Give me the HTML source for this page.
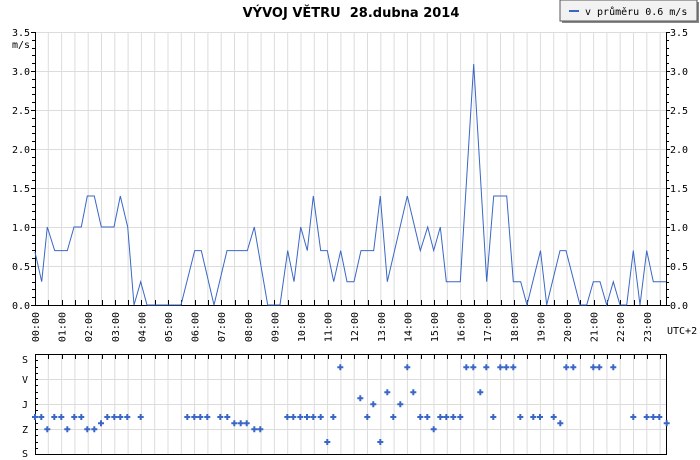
<!DOCTYPE html>
<html><head><meta charset="utf-8"><style>
body{margin:0;background:#fff;}
svg{display:block;font-family:"DejaVu Sans Mono","Liberation Mono",monospace;font-size:10px;}
</style></head><body>
<svg width="700" height="460" xmlns="http://www.w3.org/2000/svg">
<rect width="700" height="460" fill="#fff"/>
<text x="351" y="17" text-anchor="middle" font-family="DejaVu Sans,Liberation Sans,sans-serif" font-weight="bold" font-size="13" xml:space="preserve">VÝVOJ VĚTRU  28.dubna 2014</text>
<rect x="562" y="2" width="137" height="21" fill="#888"/>
<rect x="560" y="0" width="137" height="21" fill="#f2f2f2" stroke="#555"/>
<line x1="569" y1="11" x2="579" y2="11" stroke="#3a67c6" stroke-width="2"/>
<text x="585" y="15">v průměru 0.6 m/s</text>
<g stroke="#dcdcdc">
<path d="M35 32.5H666M35 71.5H666M35 110.5H666M35 149.5H666M35 188.5H666M35 227.5H666M35 266.5H666"/>
<path d="M35 379.5H667M35 404.5H667M35 429.5H667"/>
<path d="M48.3 32V305M61.6 32V305M74.9 32V305M88.2 32V305M101.5 32V305M114.8 32V305M128.1 32V305M141.4 32V305M154.7 32V305M168 32V305M181.3 32V305M194.6 32V305M207.9 32V305M221.2 32V305M234.5 32V305M247.8 32V305M261.1 32V305M274.4 32V305M287.7 32V305M301 32V305M314.3 32V305M327.6 32V305M340.9 32V305M354.2 32V305M367.5 32V305M380.8 32V305M394.1 32V305M407.4 32V305M420.7 32V305M434 32V305M447.3 32V305M460.6 32V305M473.9 32V305M487.2 32V305M500.5 32V305M513.8 32V305M527.1 32V305M540.4 32V305M553.7 32V305M567 32V305M580.3 32V305M593.6 32V305M606.9 32V305M620.2 32V305M633.5 32V305M646.8 32V305M660.1 32V305"/>
<path d="M48.3 354V454M61.6 354V454M74.9 354V454M88.2 354V454M101.5 354V454M114.8 354V454M128.1 354V454M141.4 354V454M154.7 354V454M168 354V454M181.3 354V454M194.6 354V454M207.9 354V454M221.2 354V454M234.5 354V454M247.8 354V454M261.1 354V454M274.4 354V454M287.7 354V454M301 354V454M314.3 354V454M327.6 354V454M340.9 354V454M354.2 354V454M367.5 354V454M380.8 354V454M394.1 354V454M407.4 354V454M420.7 354V454M434 354V454M447.3 354V454M460.6 354V454M473.9 354V454M487.2 354V454M500.5 354V454M513.8 354V454M527.1 354V454M540.4 354V454M553.7 354V454M567 354V454M580.3 354V454M593.6 354V454M606.9 354V454M620.2 354V454M633.5 354V454M646.8 354V454M660.1 354V454"/>
</g>
<g stroke="#000" fill="none">
<path d="M35.5 32V305.5H666.5V32"/>
<rect x="35.5" y="354.5" width="631" height="100"/>
</g>
<g stroke="#000" id="ticks"></g>
<polyline fill="none" stroke="#3a67c6" stroke-width="1" points="35,252 41.7,281.7 47.3,227 54.7,250.6 67.3,250.6 74,227 81.3,227 87.3,196 94.3,196 101.3,227 114,227 120.3,196 127.7,227 134,305 140.7,281.7 147,305 181,305 194.7,250.6 201.3,250.6 214,305 227,250.6 247.3,250.6 254.3,227 267.7,305 280,305 287.7,250.6 294,281.7 300.7,227 307.3,250.6 313.3,196 320.7,250.6 327.3,250.6 333.7,281.7 340.7,250.6 347,281.7 354,281.7 361,250.6 373.7,250.6 380.3,196 387.3,281.7 407.3,196 420.3,250.6 427.7,227 433.7,250.6 440.3,227 446.3,281.7 460.3,281.7 473.7,64 486.7,281.7 493.7,196 506.7,196 513.3,281.7 520.7,281.7 527,305 540.5,250.6 546.7,305 560,250.6 566,250.6 580,305 586.7,305 593.3,281.7 600,281.7 606.7,305 613.3,281.7 620,305 626.7,305 633.3,250.6 640,305 646.7,250.6 653.3,281.7 666,281.7"/>
<g id="dots" fill="#3a67c6"></g>
<g id="labels" fill="#000"></g>
<text x="30" y="36" text-anchor="end">3.5</text>
<text x="30" y="48" text-anchor="end">m/s</text>
<text x="670" y="36">3.5</text>
<text x="25" y="363" text-anchor="middle">S</text>
<text x="25" y="383" text-anchor="middle">V</text>
<text x="25" y="408" text-anchor="middle">J</text>
<text x="25" y="433" text-anchor="middle">Z</text>
<text x="25" y="457" text-anchor="middle">S</text>
<text x="667" y="334">UTC+2</text>
</svg>
<script>
var NS="http://www.w3.org/2000/svg";
function el(p,t,a,txt){var e=document.createElementNS(NS,t);for(var k in a)e.setAttribute(k,a[k]);if(txt!=null)e.textContent=txt;document.getElementById(p).appendChild(e);}
var d="";
for(var i=0;i<=35;i++){var y=305-i*7.8;y=Math.round(y)+0.5;var L=(i%5==0)?4:3;d+="M"+(35-L)+" "+y+"H35M666 "+y+"H"+(666+L);}
for(var k=0;k<=47;k++){var x=Math.round(35+k*13.3)+0.5;d+="M"+x+" 305V300M"+x+" 354V359";}
for(var j=0;j<=16;j++){var y=Math.round(354+j*6.25)+0.5;d+="M35 "+y+"H38";}
el("ticks","path",{d:d});
for(var i=0;i<7;i++){var v=(i*0.5).toFixed(1);var y=305-i*39+4;el("labels","text",{x:30,y:y,"text-anchor":"end"},v);el("labels","text",{x:670,y:y},v);}
for(var h=0;h<24;h++){var x=35+26.6*h+4;var s=(h<10?"0":"")+h+":00";el("labels","text",{x:0,y:0,"text-anchor":"end",transform:"translate("+x+",312) rotate(-90)"},s);}
var SV=367.3,JV=392.3,JJV=398.3,J=404.3,JZ=417,ZJZ=423.3,Z=429.3,SZ=442;
var pts=[[35,JZ],[41.3,JZ],[47.3,Z],[54.3,JZ],[61.3,JZ],[67.3,Z],[74.3,JZ],[81.3,JZ],[87.3,Z],[94.3,Z],[101,ZJZ],[107.3,JZ],[114.3,JZ],[120.3,JZ],[127.3,JZ],[140.7,JZ],[187.3,JZ],[194.3,JZ],[200.3,JZ],[207.3,JZ],[220.3,JZ],[227.3,JZ],[234.3,ZJZ],[240.7,ZJZ],[246.7,ZJZ],[254.3,Z],[260.3,Z],[287.3,JZ],[293.3,JZ],[300.3,JZ],[307,JZ],[313.3,JZ],[320.7,JZ],[327.3,SZ],[333.3,JZ],[340.3,SV],[360.3,JJV],[367.3,JZ],[373.3,J],[380.3,SZ],[387.3,JV],[393.3,JZ],[400.3,J],[407.3,SV],[413.3,JV],[420.3,JZ],[427.3,JZ],[433.7,Z],[440.3,JZ],[446.3,JZ],[453.3,JZ],[460.3,JZ],[466.3,SV],[473.3,SV],[480.3,JV],[486.3,SV],[493.3,JZ],[500.3,SV],[506.3,SV],[513.3,SV],[520.3,JZ],[533.3,JZ],[540,JZ],[553.7,JZ],[560.3,ZJZ],[566.3,SV],[573.3,SV],[593.3,SV],[599.3,SV],[613.3,SV],[633.3,JZ],[646.7,JZ],[653.3,JZ],[659.3,JZ],[666.7,ZJZ]];
pts.forEach(function(p){el("dots","path",{d:"M"+(p[0]-1)+" "+(p[1]-3)+"h2v2h2v2h-2v2h-2v-2h-2v-2h2z"});});
</script>
</body></html>
